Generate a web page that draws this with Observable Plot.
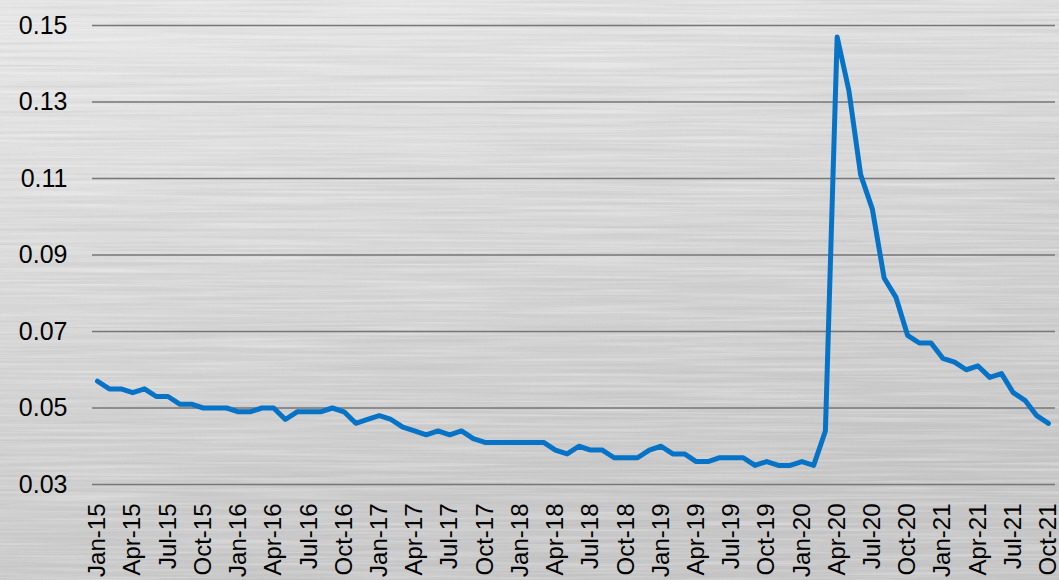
<!DOCTYPE html>
<html>
<head>
<meta charset="utf-8">
<script src="https://cdn.jsdelivr.net/npm/d3@7"></script>
<script src="https://cdn.jsdelivr.net/npm/@observablehq/plot@0.6"></script>
<style>
  html, body { margin: 0; padding: 0; background: #d6d6d6; }
  #chart { width: 1059px; height: 580px; overflow: hidden; }
</style>
</head>
<body>
<div id="chart"></div>
<script>
// Monthly unemployment rate, Jan 2015 – Oct 2021 (one value per month)
const rate2015 = [0.057, 0.055, 0.055, 0.054, 0.055, 0.053, 0.053, 0.051, 0.051, 0.050, 0.050, 0.050];
const rate2016 = [0.049, 0.049, 0.050, 0.050, 0.047, 0.049, 0.049, 0.049, 0.050, 0.049, 0.046, 0.047];
const rate2017 = [0.048, 0.047, 0.045, 0.044, 0.043, 0.044, 0.043, 0.044, 0.042, 0.041, 0.041, 0.041];
const rate2018 = [0.041, 0.041, 0.041, 0.039, 0.038, 0.040, 0.039, 0.039, 0.037, 0.037, 0.037, 0.039];
const rate2019 = [0.040, 0.038, 0.038, 0.036, 0.036, 0.037, 0.037, 0.037, 0.035, 0.036, 0.035, 0.035];
const rate2020 = [0.036, 0.035, 0.044, 0.147, 0.133, 0.111, 0.102, 0.084, 0.079, 0.069, 0.067, 0.067];
const rate2021 = [0.063, 0.062, 0.060, 0.061, 0.058, 0.059, 0.054, 0.052, 0.048, 0.046];

// Category labels shown on the x axis (every third month)
const tickLabels = [
  "Jan-15", "Apr-15", "Jul-15", "Oct-15",
  "Jan-16", "Apr-16", "Jul-16", "Oct-16",
  "Jan-17", "Apr-17", "Jul-17", "Oct-17",
  "Jan-18", "Apr-18", "Jul-18", "Oct-18",
  "Jan-19", "Apr-19", "Jul-19", "Oct-19",
  "Jan-20", "Apr-20", "Jul-20", "Oct-20",
  "Jan-21", "Apr-21", "Jul-21", "Oct-21"
];

// Value axis gridlines / ticks
const yTicks = [0.03, 0.05, 0.07, 0.09, 0.11, 0.13, 0.15];

const rates = [...rate2015, ...rate2016, ...rate2017, ...rate2018, ...rate2019, ...rate2020, ...rate2021];
const series = rates.map((rate, i) => ({i, rate}));
const tickIndex = tickLabels.map((_, k) => k * 3);

const W = 1059, H = 580;
const font = "'Liberation Sans', Arial, Helvetica, sans-serif";

const chart = Plot.plot({
  width: W,
  height: H,
  marginTop: 25,
  marginBottom: 96,
  marginLeft: 92,
  marginRight: 4,
  style: {background: "transparent", fontFamily: font, fontSize: "25px", color: "#000"},
  x: {type: "linear", domain: [-0.43, 81.6]},
  y: {domain: [0.03, 0.15]},
  marks: [
    Plot.ruleY(yTicks, {stroke: "#767676", strokeWidth: 1.6}),
    Plot.axisY({
      ticks: yTicks, tickFormat: d3.format(".2f"), tickSize: 0, tickPadding: 25,
      fontSize: 25, fill: "#000", label: null
    }),
    Plot.axisX({
      ticks: tickIndex, tickFormat: i => tickLabels[i / 3], tickSize: 0, tickPadding: 19,
      tickRotate: -90, fontSize: 24, fill: "#000", label: null
    }),
    Plot.line(series, {
      x: "i", y: "rate", stroke: "#0773c6", strokeWidth: 5,
      strokeLinejoin: "round", strokeLinecap: "round"
    })
  ]
});

// Brushed-metal backdrop drawn behind all marks
const svg = d3.select(chart);
const defs = svg.insert("defs", ":first-child");
const grad = defs.append("linearGradient")
  .attr("id", "metalShade").attr("x1", "0").attr("y1", "0").attr("x2", "0.35").attr("y2", "1");
grad.append("stop").attr("offset", "0").attr("stop-color", "#e9e9e9");
grad.append("stop").attr("offset", "0.45").attr("stop-color", "#d9d9d9");
grad.append("stop").attr("offset", "1").attr("stop-color", "#c6c6c6");

const dark = defs.append("filter").attr("id", "streakDark")
  .attr("x", 0).attr("y", 0).attr("width", "100%").attr("height", "100%");
dark.append("feTurbulence").attr("type", "fractalNoise")
  .attr("baseFrequency", "0.004 0.28").attr("numOctaves", 3).attr("seed", 7);
dark.append("feColorMatrix").attr("type", "matrix")
  .attr("values", "0 0 0 0 0.45  0 0 0 0 0.45  0 0 0 0 0.45  1.1 0 0 0 -0.42");

const light = defs.append("filter").attr("id", "streakLight")
  .attr("x", 0).attr("y", 0).attr("width", "100%").attr("height", "100%");
light.append("feTurbulence").attr("type", "fractalNoise")
  .attr("baseFrequency", "0.006 0.35").attr("numOctaves", 3).attr("seed", 19);
light.append("feColorMatrix").attr("type", "matrix")
  .attr("values", "0 0 0 0 1  0 0 0 0 1  0 0 0 0 1  1.2 0 0 0 -0.5");

const bg = svg.insert("g", "defs + *");
bg.append("rect").attr("width", W).attr("height", H).attr("fill", "url(#metalShade)");
bg.append("rect").attr("width", W).attr("height", H).attr("filter", "url(#streakDark)").attr("opacity", 0.55);
bg.append("rect").attr("width", W).attr("height", H).attr("filter", "url(#streakLight)").attr("opacity", 0.6);

document.getElementById("chart").append(chart);
</script>
</body>
</html>
